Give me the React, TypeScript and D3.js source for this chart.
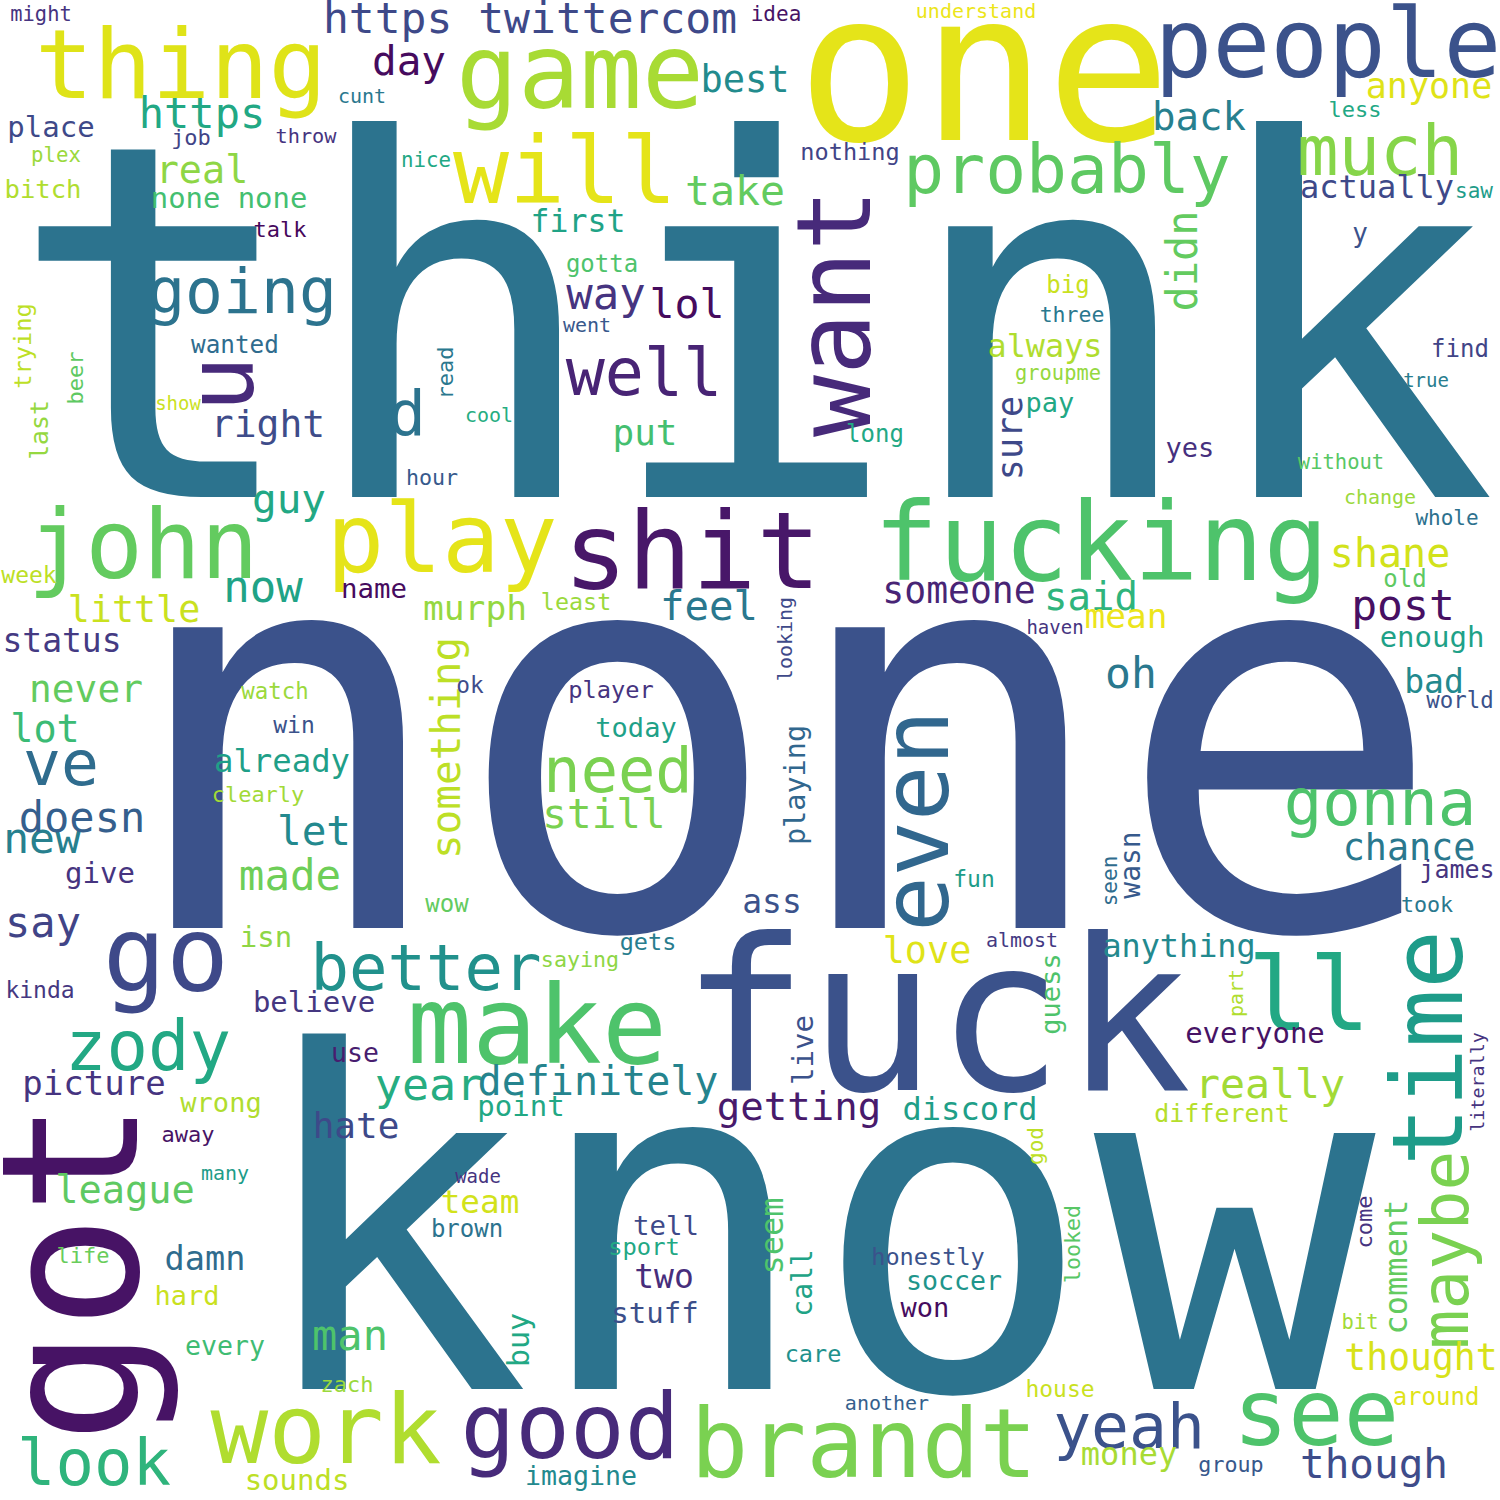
import React, { useRef, useEffect } from "react";
import * as d3 from "d3";

// words of the cloud, biggest first
const words = [
  "none", "think", "know", "one", "fuck", "got", "shit", "fucking", "make", "game",
  "ll", "want", "thing", "people", "john", "play", "work", "brandt", "time", "go",
  "u", "will", "even", "see", "good", "zody", "much", "probably", "maybe", "well",
  "better", "gonna", "look", "ve", "going", "yeah", "d", "need", "year", "https twittercom",
  "now", "oh", "way", "post", "new", "https", "doesn", "say", "made", "man",
  "didn", "take", "lol", "really", "still", "let", "guy", "day", "though", "something",
  "feel", "shane", "definitely", "getting", "back", "said", "league", "real", "lot", "right",
  "never", "best", "love", "chance", "little", "someone", "thought", "put", "hate", "anyone",
  "sure", "murph", "mean", "picture", "damn", "status", "ass", "two", "bad", "team",
  "already", "actually", "discord", "money", "comment", "seem", "anything", "always", "first", "buy",
  "everyone", "believe", "point", "sounds", "stuff", "isn", "give", "place", "enough", "none none",
  "playing", "live", "call", "wasn", "tell", "name", "pay", "yes", "today", "guess",
  "hard", "wrong", "won", "every", "soccer", "imagine", "y", "use", "bitch", "different",
  "james", "wow", "wanted", "gotta", "long", "big", "find", "brown", "old", "last",
  "around", "trying", "player", "nothing", "honestly", "sport", "least", "gets", "care", "house",
  "week", "kinda", "win", "fun", "ok", "watch", "world", "talk", "job", "beer",
  "read", "clearly", "away", "life", "zach", "less", "three", "come", "part", "hour",
  "took", "saying", "group", "looked", "idea", "saw", "whole", "god", "seen", "nice",
  "plex", "without", "bit", "might", "groupme", "throw", "cunt", "understand", "went", "change",
  "many", "almost", "another", "looking", "cool", "show", "haven", "true", "wade", "literally",
];

// relative weight of each word (same order as words)
const weights = [
  550, 495, 468, 207, 212, 190, 107, 108, 108, 103,
  102, 103, 97, 96, 96, 96, 96, 96, 98, 105,
  93, 93, 92, 92, 91, 69, 69, 68, 66, 65,
  64, 64, 64, 63, 63, 63, 63, 62, 45, 43,
  44, 43, 44, 43, 43, 42, 42, 42, 42.5, 42,
  42, 41.6, 41.6, 41.6, 41, 41, 41, 41, 41, 41,
  40.7, 40, 40, 39, 39, 39, 38.7, 38.5, 38.6, 38,
  37.8, 37, 36.8, 36.7, 36.7, 36.4, 36.4, 36, 36, 35,
  35, 34.6, 34.5, 34, 33.6, 33, 33, 33, 33, 32.7,
  32.3, 32, 32, 32, 32, 32, 31.8, 31.8, 31.5, 30,
  29, 29, 29, 29, 29, 29, 29, 29, 29, 28.9,
  28.5, 29, 28, 28, 27.4, 27.4, 27, 27, 27, 27,
  27, 27, 27, 26.6, 26.6, 26.6, 26, 26.5, 25.6, 25,
  25, 24, 24.3, 24, 24, 24, 24, 24, 24, 24.8,
  24, 23.7, 23.7, 23.6, 23.6, 23.8, 23.4, 23.5, 23.5, 23,
  23, 23, 23, 23, 22.8, 22.4, 22.4, 22, 22, 22,
  22, 22, 22, 22, 22, 22, 21.5, 22, 20, 21.7,
  21.7, 21.7, 21.7, 21.7, 21, 21, 21, 21, 21, 20.8,
  20.7, 20.5, 20.5, 20.4, 20.4, 20.3, 20, 20, 20, 20,
  20, 20, 20, 20, 20, 19, 19, 19, 19, 18.4,
];

// layout of the cloud: [centre x, baseline y, 1 = turned to read upwards]
const placement: Record<string, [number, number, number]> = {
  none: [783, 928, 0], think: [752, 497, 0], know: [812, 1389, 0], one: [984, 140, 0],
  fuck: [936, 1090, 0], got: [137, 1272, 1], shit: [692, 588, 0], fucking: [1101, 580, 0],
  make: [537, 1063, 0], game: [580, 108, 0], ll: [1309, 1030, 0], want: [870, 313, 1],
  thing: [181, 98, 0], people: [1328, 77, 0], john: [143, 578, 0], play: [442, 572, 0],
  work: [326, 1463, 0], brandt: [864, 1477, 0], time: [1462, 1048, 1], go: [166, 991, 0],
  u: [253, 384, 1], will: [565, 203, 0], even: [948, 821, 1], see: [1316, 1445, 0],
  good: [570, 1458, 0], zody: [148, 1070, 0], much: [1380, 175, 0], probably: [1067, 193, 0],
  maybe: [1468, 1250, 1], well: [644, 395, 0], better: [426, 990, 0], gonna: [1380, 825, 0],
  look: [94, 1485, 0], ve: [61, 785, 0], going: [242, 313, 0], yeah: [1129, 1448, 0],
  d: [407, 435, 0], need: [618, 792, 0], year: [429, 1100, 0], "https twittercom": [530, 33, 0],
  now: [263, 602, 0], oh: [1131, 688, 0], way: [606, 309, 0], post: [1403, 620, 0],
  new: [42, 853, 0], https: [202, 128, 0], doesn: [82, 832, 0], say: [43, 937, 0],
  made: [290, 890, 0], man: [350, 1350, 0], didn: [1197, 261, 1], take: [735, 205, 0],
  lol: [687, 318, 0], really: [1270, 1098, 0], still: [604, 828, 0], let: [314, 845, 0],
  guy: [289, 513, 0], day: [409, 75, 0], though: [1374, 1478, 0], something: [460, 748, 1],
  feel: [709, 620, 0], shane: [1390, 567, 0], definitely: [598, 1095, 0], getting: [799, 1120, 0],
  back: [1199, 130, 0], said: [1091, 610, 0], league: [125, 1203, 0], real: [202, 183, 0],
  lot: [45, 742, 0], right: [268, 437, 0], never: [86, 702, 0], best: [745, 92, 0],
  love: [927, 963, 0], chance: [1409, 860, 0], little: [134, 622, 0], someone: [959, 603, 0],
  thought: [1421, 1370, 0], put: [645, 445, 0], hate: [356, 1138, 0], anyone: [1429, 98, 0],
  sure: [1022, 438, 1], murph: [475, 620, 0], mean: [1126, 628, 0], picture: [94, 1095, 0],
  damn: [205, 1270, 0], status: [62, 652, 0], ass: [772, 913, 0], two: [664, 1288, 0],
  bad: [1434, 693, 0], team: [480, 1213, 0], already: [282, 772, 0], actually: [1377, 198, 0],
  discord: [970, 1120, 0], money: [1129, 1465, 0], comment: [1407, 1267, 1], seem: [783, 1236, 1],
  anything: [1179, 957, 0], always: [1045, 357, 0], first: [578, 232, 0], buy: [529, 1340, 1],
  everyone: [1255, 1043, 0], believe: [314, 1012, 0], point: [521, 1116, 0], sounds: [297, 1490, 0],
  stuff: [655, 1323, 0], isn: [266, 947, 0], give: [100, 883, 0], place: [51, 137, 0],
  enough: [1432, 647, 0], "none none": [229, 208, 0], playing: [805, 785, 1], live: [813, 1050, 1],
  call: [812, 1283, 1], wasn: [1140, 865, 1], tell: [666, 1235, 0], name: [374, 598, 0],
  pay: [1050, 412, 0], yes: [1190, 457, 0], today: [636, 737, 0], guess: [1060, 994, 1],
  hard: [187, 1305, 0], wrong: [221, 1112, 0], won: [925, 1317, 0], every: [225, 1355, 0],
  soccer: [954, 1290, 0], imagine: [581, 1485, 0], y: [1360, 242, 0], use: [355, 1062, 0],
  bitch: [43, 198, 0], different: [1222, 1122, 0], james: [1457, 878, 0], wow: [447, 912, 0],
  wanted: [235, 353, 0], gotta: [602, 272, 0], long: [875, 442, 0], big: [1068, 293, 0],
  find: [1460, 357, 0], brown: [467, 1237, 0], old: [1405, 587, 0], last: [48, 430, 1],
  around: [1436, 1405, 0], trying: [31, 346, 1], player: [611, 698, 0], nothing: [850, 160, 0],
  honestly: [928, 1265, 0], sport: [644, 1255, 0], least: [576, 610, 0], gets: [648, 950, 0],
  care: [813, 1362, 0], house: [1060, 1397, 0], week: [29, 583, 0], kinda: [40, 998, 0],
  win: [294, 733, 0], fun: [974, 887, 0], ok: [470, 693, 0], watch: [275, 699, 0],
  world: [1460, 708, 0], talk: [280, 237, 0], job: [191, 145, 0], beer: [83, 378, 1],
  read: [453, 373, 1], clearly: [258, 802, 0], away: [188, 1142, 0], life: [83, 1263, 0],
  zach: [347, 1392, 0], less: [1355, 117, 0], three: [1072, 322, 0], come: [1372, 1222, 1],
  part: [1243, 993, 1], hour: [432, 485, 0], took: [1427, 912, 0], saying: [580, 967, 0],
  group: [1231, 1472, 0], looked: [1080, 1244, 1], idea: [776, 21, 0], saw: [1474, 198, 0],
  whole: [1447, 525, 0], god: [1043, 1146, 1], seen: [1117, 881, 1], nice: [426, 167, 0],
  plex: [56, 162, 0], without: [1341, 469, 0], bit: [1360, 1329, 0], might: [41, 21, 0],
  groupme: [1058, 380, 0], throw: [306, 143, 0], cunt: [362, 103, 0], understand: [976, 18, 0],
  went: [587, 332, 0], change: [1380, 504, 0], many: [225, 1180, 0], almost: [1022, 947, 0],
  another: [887, 1410, 0], looking: [792, 639, 1], cool: [489, 422, 0], show: [178, 410, 0],
  haven: [1055, 634, 0], true: [1426, 387, 0], wade: [478, 1183, 0], literally: [1484, 1082, 1],
};

// where each word's random colour sits on the viridis map
const tones: Record<string, number> = {
  none: 0.25, think: 0.38, know: 0.38, one: 0.96, fuck: 0.25, got: 0.05, shit: 0.06,
  fucking: 0.72, make: 0.72, game: 0.87, ll: 0.6, want: 0.12, thing: 0.95, people: 0.25,
  john: 0.76, play: 0.96, work: 0.88, brandt: 0.8, time: 0.55, go: 0.22, u: 0.12,
  will: 0.96, even: 0.33, see: 0.72, good: 0.12, zody: 0.6, much: 0.82, probably: 0.75,
  maybe: 0.8, well: 0.1, better: 0.5, gonna: 0.72, look: 0.65, ve: 0.35, going: 0.38,
  yeah: 0.25, d: 0.38, need: 0.8, year: 0.62, "https twittercom": 0.22, now: 0.58, oh: 0.4,
  way: 0.15, post: 0.04, new: 0.43, https: 0.6, doesn: 0.3, say: 0.2, made: 0.78,
  man: 0.72, didn: 0.76, take: 0.76, lol: 0.03, really: 0.86, still: 0.8, let: 0.47,
  guy: 0.6, day: 0.03, though: 0.23, something: 0.9, feel: 0.4, shane: 0.93, definitely: 0.45,
  getting: 0.07, back: 0.43, said: 0.65, league: 0.75, real: 0.83, lot: 0.68, right: 0.23,
  never: 0.76, best: 0.48, love: 0.95, chance: 0.4, little: 0.92, someone: 0.1, thought: 0.94,
  put: 0.7, hate: 0.22, anyone: 0.95, sure: 0.22, murph: 0.84, mean: 0.97, picture: 0.15,
  damn: 0.35, status: 0.17, ass: 0.25, two: 0.13, bad: 0.47, team: 0.93, already: 0.56,
  actually: 0.22, discord: 0.56, money: 0.87, comment: 0.76, seem: 0.72, anything: 0.47,
  always: 0.88, first: 0.58, buy: 0.6, everyone: 0.05, believe: 0.16, point: 0.6, sounds: 0.9,
  stuff: 0.24, isn: 0.83, give: 0.15, place: 0.22, enough: 0.57, "none none": 0.7,
  playing: 0.33, live: 0.25, call: 0.58, wasn: 0.28, tell: 0.22, name: 0.03, pay: 0.6,
  yes: 0.14, today: 0.57, guess: 0.72, hard: 0.92, wrong: 0.88, won: 0.03, every: 0.69,
  soccer: 0.52, imagine: 0.47, y: 0.25, use: 0.08, bitch: 0.88, different: 0.89, james: 0.15,
  wow: 0.76, wanted: 0.35, gotta: 0.72, long: 0.6, big: 0.92, find: 0.2, brown: 0.38,
  old: 0.75, last: 0.84, around: 0.95, trying: 0.9, player: 0.15, nothing: 0.2, honestly: 0.25,
  sport: 0.6, least: 0.85, gets: 0.42, care: 0.5, house: 0.92, week: 0.9, kinda: 0.16,
  win: 0.25, fun: 0.55, ok: 0.23, watch: 0.85, world: 0.25, talk: 0.02, job: 0.2, beer: 0.75,
  read: 0.4, clearly: 0.86, away: 0.05, life: 0.77, zach: 0.85, less: 0.6, three: 0.4,
  come: 0.15, part: 0.88, hour: 0.28, took: 0.4, saying: 0.83, group: 0.27, looked: 0.74,
  idea: 0.05, saw: 0.55, whole: 0.37, god: 0.9, seen: 0.35, nice: 0.6, plex: 0.85,
  without: 0.74, bit: 0.86, might: 0.15, groupme: 0.84, throw: 0.15, cunt: 0.4,
  understand: 0.97, went: 0.27, change: 0.85, many: 0.55, almost: 0.17, another: 0.3,
  looking: 0.22, cool: 0.62, show: 0.92, haven: 0.15, true: 0.42, wade: 0.15, literally: 0.15,
};

const WIDTH = 1500;
const HEIGHT = 1500;

const WordCloud = () => {
  const ref = useRef<SVGSVGElement>(null);

  useEffect(() => {
    document.body.style.margin = "0";
    const svg = d3.select(ref.current);

    const fontSize = d3
      .scaleLinear()
      .domain([0, d3.max(weights) as number])
      .range([0, 550]);

    const data = words.map((w, i) => {
      const [x, y, r] = placement[w];
      return { text: w, size: fontSize(weights[i]), x, y, r, tone: tones[w] };
    });

    svg
      .selectAll("text")
      .data(data)
      .join("text")
      .attr("transform", (d) => `translate(${d.x},${d.y})` + (d.r ? " rotate(-90)" : ""))
      .attr("text-anchor", "middle")
      .attr("font-family", "'DejaVu Sans Mono', monospace")
      .attr("font-size", (d) => d.size)
      .attr("fill", (d) => d3.interpolateViridis(d.tone))
      .text((d) => d.text);
  }, []);

  return (
    <svg ref={ref} width={WIDTH} height={HEIGHT} style={{ display: "block", background: "#fff" }} />
  );
};

export default function App() {
  return <WordCloud />;
}
